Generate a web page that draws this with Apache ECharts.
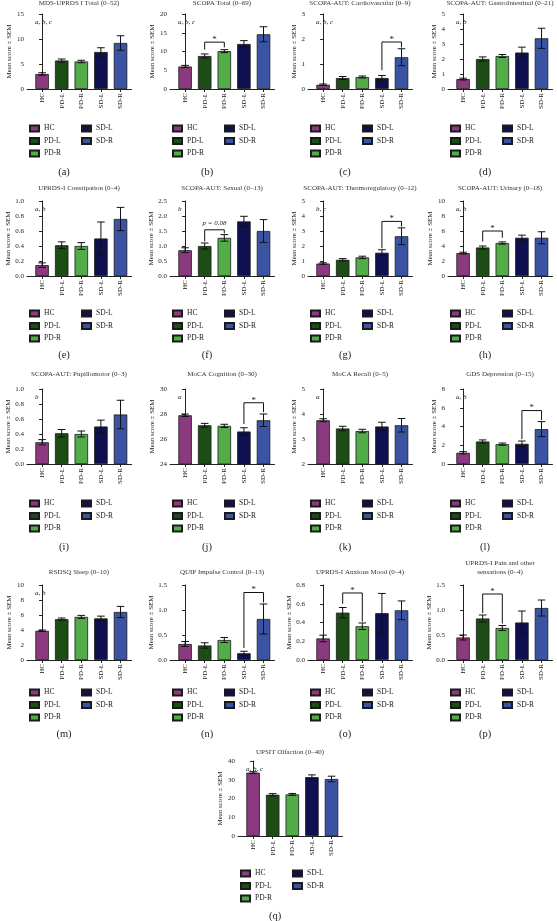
<!DOCTYPE html>
<html><head><meta charset="utf-8">
<script src="https://cdn.jsdelivr.net/npm/echarts@6/dist/echarts.min.js"></script>
<style>html,body{margin:0;padding:0;background:#fff;}#c{width:557px;height:921px;}</style>
</head><body><div id="c"></div>
<script>
// ---------------- DATA ----------------
const groups = ['HC', 'PD-L', 'PD-R', 'SD-L', 'SD-R'];
const panelTitles = [
  'MDS-UPRDS I Total (0\u201352)', 'SCOPA Total (0\u201369)', 'SCOPA-AUT: Cardiovascular (0\u20139)', 'SCOPA-AUT: GastroIntestinal (0\u201321)',
  'UPRDS-I Constipation (0\u20134)', 'SCOPA-AUT: Sexual (0\u201313)', 'SCOPA-AUT: Thermoregulatory (0\u201312)', 'SCOPA-AUT: Urinary (0\u201318)',
  'SCOPA-AUT: Pupillomotor (0\u20133)', 'MoCA Cognition (0\u201330)', 'MoCA Recall (0\u20135)', 'GDS Depression (0\u201315)',
  'RSDSQ Sleep (0\u201310)', 'QUIP Impulse Control (0\u201313)', 'UPRDS-I Anxious Mood (0\u20134)', 'UPRDS-I Pain and other\nsensations (0\u20134)',
  'UPSIT Olfaction (0\u201340)'
];
const panelLetters = ['(a)','(b)','(c)','(d)','(e)','(f)','(g)','(h)','(i)','(j)','(k)','(l)','(m)','(n)','(o)','(p)','(q)'];
const annotations = ['a, b, c','a, b, c','a, b, c','a, b','a, b','b','b, c','a, b','b','a','a','a, b','a, b','','','','a, b, c'];
const yMin  = [0, 0, 0, 0, 0,   0,   0, 0,  0,   24, 2, 0, 0,  0,   0,   0,   0];
const yMax  = [15,20,3, 5, 1,   2.5, 5, 10, 1,   30, 5, 8, 10, 1.5, 0.8, 1.5, 40];
const yStep = [5, 5, 1, 1, 0.2, 0.5, 1, 2,  0.2, 2,  1, 2, 2,  0.5, 0.2, 0.5, 10];

const meanA = [3.0, 5.7, 5.5, 7.4, 9.2],        semA = [0.25, 0.3, 0.25, 0.85, 1.45];
const meanB = [6.0, 8.8, 10.1, 12.0, 14.6],     semB = [0.3, 0.55, 0.4, 0.9, 2.0];
const meanC = [0.17, 0.44, 0.48, 0.44, 1.27],   semC = [0.03, 0.06, 0.04, 0.1, 0.34];
const meanD = [0.66, 2.0, 2.2, 2.43, 3.38],     semD = [0.06, 0.14, 0.1, 0.36, 0.67];
const meanE = [0.145, 0.41, 0.40, 0.50, 0.76],  semE = [0.03, 0.045, 0.045, 0.22, 0.155];
const meanF = [0.86, 1.0, 1.27, 1.82, 1.5],     semF = [0.08, 0.1, 0.11, 0.17, 0.38];
const meanG = [0.83, 1.08, 1.24, 1.55, 2.65],   semG = [0.05, 0.08, 0.08, 0.2, 0.56];
const meanH = [3.05, 3.8, 4.4, 5.1, 5.1],       semH = [0.12, 0.2, 0.15, 0.35, 0.8];
const meanI = [0.29, 0.41, 0.40, 0.50, 0.66],   semI = [0.035, 0.05, 0.04, 0.085, 0.19];
const meanJ = [27.9, 27.1, 27.05, 26.6, 27.5],  semJ = [0.1, 0.15, 0.13, 0.3, 0.5];
const meanK = [3.75, 3.42, 3.32, 3.5, 3.55],    semK = [0.06, 0.09, 0.07, 0.17, 0.27];
const meanL = [1.2, 2.4, 2.12, 2.15, 3.72],     semL = [0.12, 0.17, 0.12, 0.3, 0.8];
const meanM = [3.9, 5.45, 5.75, 5.55, 6.4],     semM = [0.1, 0.15, 0.2, 0.3, 0.75];
const meanN = [0.32, 0.29, 0.40, 0.135, 0.82],  semN = [0.05, 0.055, 0.05, 0.04, 0.3];
const meanO = [0.23, 0.505, 0.36, 0.5, 0.53],   semO = [0.035, 0.055, 0.035, 0.21, 0.1];
const meanP = [0.45, 0.83, 0.64, 0.75, 1.04],   semP = [0.05, 0.07, 0.05, 0.23, 0.16];
const meanQ = [33.8, 22.0, 22.2, 31.4, 30.4],   semQ = [0.5, 0.6, 0.5, 1.2, 1.5];

const means = [meanA, meanB, meanC, meanD, meanE, meanF, meanG, meanH, meanI, meanJ, meanK, meanL, meanM, meanN, meanO, meanP, meanQ];
const sems  = [semA, semB, semC, semD, semE, semF, semG, semH, semI, semJ, semK, semL, semM, semN, semO, semP, semQ];

// significance brackets: panel index, [from group, to group], bracket height, leg ends, label
const bracketPanels  = [1, 2, 5, 6, 7, 9, 11, 13, 14, 15];
const bracketSpans   = [[1,2],[3,4],[1,2],[3,4],[1,2],[3,4],[3,4],[3,4],[1,2],[1,2]];
const bracketHeights = [12.5, 1.88, 1.54, 3.64, 6.0, 28.9, 5.7, 1.35, 0.715, 1.32];
const bracketLegEnds = [[10.5,11.1],[0.75,1.66],[1.15,1.42],[1.85,3.3],[4.6,5.1],[27.2,28.15],[2.65,4.7],[0.24,1.15],[0.6,0.41],[0.94,0.73]];
const bracketLabels  = ['*','*','p = 0.08','*','*','*','*','*','*','*'];

// ---------------- STYLE / LAYOUT ----------------
const colors = ['#8c3a7f', '#1c4d15', '#52ad48', '#0e1050', '#3b53a3'];
const SERIF = '"Liberation Serif", "DejaVu Serif", serif';
const colX = [27, 170, 308, 448];
const rowTop = [14, 201, 389, 585, 761];
const titleY = [3, 188, 374, 572, 752];
const legendY = [128, 313, 503, 692, 873];
const letterY = [172, 355, 547, 734, 916];
const PLOT_W = 104.5, PLOT_H = 75;
const X_MIN = -0.77, X_MAX = 4.56;

function panelPos(p) {
  if (p === 16) return { x: 238, r: 4 };
  return { x: colX[p % 4], r: Math.floor(p / 4) };
}

function errRender(params, api) {
  const x = api.value(0), m = api.value(1), s = api.value(2);
  const t = api.coord([x, m + s]), b = api.coord([x, m - s]);
  const c = 3.8, st = { stroke: '#111', lineWidth: 1 };
  return { type: 'group', children: [
    { type: 'line', shape: { x1: t[0], y1: t[1], x2: b[0], y2: b[1] }, style: st },
    { type: 'line', shape: { x1: t[0] - c, y1: t[1], x2: t[0] + c, y2: t[1] }, style: st },
    { type: 'line', shape: { x1: b[0] - c, y1: b[1], x2: b[0] + c, y2: b[1] }, style: st }
  ]};
}
function bracketRender(label) {
  return function (params, api) {
    const x1 = api.value(0), x2 = api.value(1), h = api.value(2), e1 = api.value(3), e2 = api.value(4);
    const p1 = api.coord([x1, e1]), p2 = api.coord([x1, h]), p3 = api.coord([x2, h]), p4 = api.coord([x2, e2]);
    const isStar = label === '*';
    return { type: 'group', children: [
      { type: 'polyline', shape: { points: [p1, p2, p3, p4] }, style: { stroke: '#111', lineWidth: 1, fill: null } },
      { type: 'text', x: (p2[0] + p3[0]) / 2, y: p2[1] - (isStar ? 2.5 : 7),
        style: { text: label, fill: '#222', font: (isStar ? '9px ' : 'italic 7px ') + SERIF, textAlign: 'center', textVerticalAlign: 'middle' } }
    ]};
  };
}

const grid = [], xAxis = [], yAxis = [], series = [], legend = [], graphic = [];
for (let p = 0; p < 17; p++) {
  const pos = panelPos(p), ax = pos.x, r = pos.r;
  grid.push({ left: ax, top: rowTop[r], width: PLOT_W, height: PLOT_H });
  xAxis.push({
    gridIndex: p, type: 'value', min: X_MIN, max: X_MAX,
    axisLine: { show: true, onZero: false, lineStyle: { color: '#222', width: 1 } },
    axisTick: { show: true, customValues: [0, 1, 2, 3, 4], length: 3, lineStyle: { color: '#222' } },
    axisLabel: { customValues: [0, 1, 2, 3, 4], rotate: 90, margin: 4, fontSize: 7, fontFamily: SERIF, color: '#222',
      formatter: v => groups[Math.round(v)] },
    splitLine: { show: false }
  });
  const dec = yStep[p] < 1 ? 1 : 0;
  yAxis.push({
    gridIndex: p, type: 'value', min: yMin[p], max: yMax[p], interval: yStep[p],
    axisLine: { show: true, lineStyle: { color: '#222', width: 1 } },
    axisTick: { show: true, length: 3, lineStyle: { color: '#222' } },
    axisLabel: { fontSize: 7, fontFamily: SERIF, color: '#222', margin: 3, formatter: v => v.toFixed(dec) },
    splitLine: { show: false },
    name: 'Mean score \u00b1 SEM', nameLocation: 'middle', nameRotate: 90, nameGap: p === 16 ? 13 : 10,
    nameTextStyle: { fontSize: 7, fontFamily: SERIF, color: '#222' }
  });
  for (let g = 0; g < 5; g++) {
    series.push({
      type: 'bar', name: groups[g], xAxisIndex: p, yAxisIndex: p,
      data: [[g, means[p][g]]], barWidth: 13.5, barGap: '-100%',
      itemStyle: { color: colors[g], borderColor: '#1a1a1a', borderWidth: 0.8 },
      z: 2, silent: true
    });
  }
  series.push({
    type: 'custom', xAxisIndex: p, yAxisIndex: p, z: 5, silent: true,
    data: means[p].map((m, i) => [i, m, sems[p][i]]),
    encode: { x: 0, y: 1 }, renderItem: errRender
  });
  const bi = bracketPanels.indexOf(p);
  if (bi >= 0) {
    series.push({
      type: 'custom', xAxisIndex: p, yAxisIndex: p, z: 5, silent: true,
      data: [[bracketSpans[bi][0], bracketSpans[bi][1], bracketHeights[bi], bracketLegEnds[bi][0], bracketLegEnds[bi][1]]],
      encode: { x: [0, 1], y: [2, 3, 4] }, renderItem: bracketRender(bracketLabels[bi])
    });
  }
  const legBase = {
    orient: 'vertical', top: legendY[r] - 3.5, itemWidth: 9, itemHeight: 6, itemGap: 4.5, padding: 0,
    icon: 'rect', selectedMode: false,
    textStyle: { fontSize: 7.5, fontFamily: SERIF, color: '#222' }
  };
  legend.push(Object.assign({}, legBase, { left: ax + 2, data: groups.slice(0, 3) }));
  legend.push(Object.assign({}, legBase, { left: ax + 54, data: groups.slice(3) }));
  // title
  const isTwo = panelTitles[p].indexOf('\n') >= 0;
  graphic.push({ type: 'text', x: ax + 52, y: isTwo ? titleY[r] - 4 : titleY[r], silent: true,
    style: { text: panelTitles[p], fill: '#333', font: '7px ' + SERIF, textAlign: 'center', textVerticalAlign: 'middle', lineHeight: 9 } });
  // sub-figure letter
  graphic.push({ type: 'text', x: ax + 37, y: letterY[r], silent: true,
    style: { text: panelLetters[p], fill: '#222', font: '10.5px ' + SERIF, textAlign: 'center', textVerticalAlign: 'middle' } });
  if (annotations[p]) {
    graphic.push({ type: 'text', x: ax + 8, y: rowTop[r] + 8, silent: true,
      style: { text: annotations[p], fill: '#222', font: 'italic 7px ' + SERIF, textAlign: 'left', textVerticalAlign: 'middle' } });
  }
}

const chart = echarts.init(document.getElementById('c'), null, { renderer: 'canvas' });
chart.setOption({
  animation: false, backgroundColor: '#ffffff',
  grid, xAxis, yAxis, series, legend, graphic
});
</script>
</body></html>
